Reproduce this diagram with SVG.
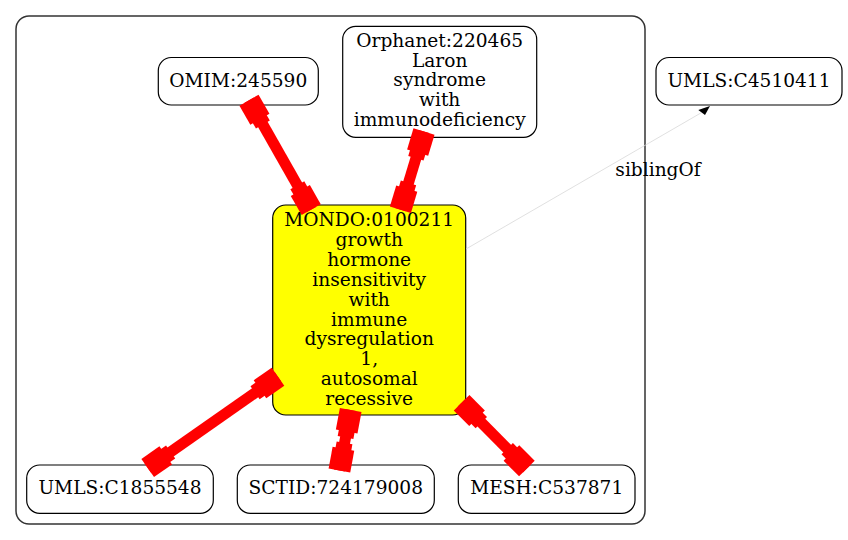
<svg xmlns="http://www.w3.org/2000/svg" width="848" height="540" viewBox="0 0 848 540">
<style>
.node rect{fill:#fff;stroke:#000;stroke-width:1.2}
.node.main rect{fill:#ffff00}
text{font-family:"DejaVu Serif","Liberation Serif",serif;font-size:18.6px;fill:#000;text-anchor:middle}
.cluster{fill:none;stroke:#333;stroke-width:1.5}
.xref{fill:none;stroke:#ff0000;stroke-width:11;stroke-linecap:butt}
.bx{fill:#ff0000}
.sib{fill:none;stroke:#d8d8d8;stroke-width:0.8}
</style>
<defs>
<g id="box"><rect class="bx" x="0" y="-11" width="22" height="22"/><rect class="bx" x="21" y="-8" width="7" height="16"/></g>
</defs>
<rect width="848" height="540" fill="#fff"/>
<rect class="cluster" x="16" y="16" width="629" height="508" rx="13"/>
<g id="n_omim" class="node"><rect x="158.3" y="57.5" width="160" height="47.5" rx="13"/><text x="238.3" y="86.7">OMIM:245590</text></g>
<g id="n_orphanet" class="node"><rect x="342.7" y="26.3" width="194" height="111" rx="13"/>
<text x="439.7" y="46.7">Orphanet:220465</text><text x="439.7" y="66.5">Laron</text><text x="439.7" y="86.3">syndrome</text><text x="439.7" y="106.1">with</text><text x="439.7" y="125.9">immunodeficiency</text></g>
<g id="n_umls4510411" class="node"><rect x="656" y="57.5" width="186" height="47.5" rx="13"/><text x="749" y="86.7">UMLS:C4510411</text></g>
<g id="n_mondo" class="node main"><rect x="272.7" y="205" width="193" height="210" rx="13"/>
<text x="369.2" y="226">MONDO:0100211</text><text x="369.2" y="245.9">growth</text><text x="369.2" y="265.8">hormone</text><text x="369.2" y="285.7">insensitivity</text><text x="369.2" y="305.6">with</text><text x="369.2" y="325.5">immune</text><text x="369.2" y="345.4">dysregulation</text><text x="369.2" y="365.3">1,</text><text x="369.2" y="385.2">autosomal</text><text x="369.2" y="405.1">recessive</text></g>
<g id="n_umls1855548" class="node"><rect x="26.7" y="465" width="186.6" height="48.3" rx="13"/><text x="120" y="494.3">UMLS:C1855548</text></g>
<g id="n_sctid" class="node"><rect x="237.3" y="465" width="197" height="48.3" rx="13"/><text x="335.8" y="494.3">SCTID:724179008</text></g>
<g id="n_mesh" class="node"><rect x="458.3" y="465" width="176.7" height="48.3" rx="13"/><text x="546.7" y="494.3">MESH:C537871</text></g>
<g id="connectors">
<g id="e_omim">
<path class="xref" d="M249,100.2 L311.2,209.6"/>
<use href="#box" transform="translate(249,100.2) rotate(60.3)"/>
<use href="#box" transform="translate(311.2,209.6) rotate(240.3)"/>
</g>
<g id="e_orphanet">
<path class="xref" d="M424,131.5 L400.4,209.7"/>
<use href="#box" transform="translate(424,131.5) rotate(106.8)"/>
<use href="#box" transform="translate(400.4,209.7) rotate(-73.2)"/>
</g>
<g id="e_umls1855548">
<path class="xref" d="M278,376.7 L147.7,468"/>
<use href="#box" transform="translate(278,376.7) rotate(145)"/>
<use href="#box" transform="translate(147.7,468) rotate(-35)"/>
</g>
<g id="e_sctid">
<path class="xref" d="M350.7,409.9 L339.4,470.4"/>
<use href="#box" transform="translate(350.7,409.9) rotate(100.6)"/>
<use href="#box" transform="translate(339.4,470.4) rotate(-79.4)"/>
</g>
<g id="e_mesh">
<path class="xref" d="M461.6,402.7 L526.9,468.6"/>
<use href="#box" transform="translate(461.6,402.7) rotate(45.3)"/>
<use href="#box" transform="translate(526.9,468.6) rotate(225.3)"/>
</g>
<g id="e_sibling">
<path class="sib" d="M466,249 L701.7,112.5"/>
<polygon points="710,106 698.3,110 705,115" fill="#000"/>
<text x="658" y="176">siblingOf</text>
</g>
</g>
</svg>
